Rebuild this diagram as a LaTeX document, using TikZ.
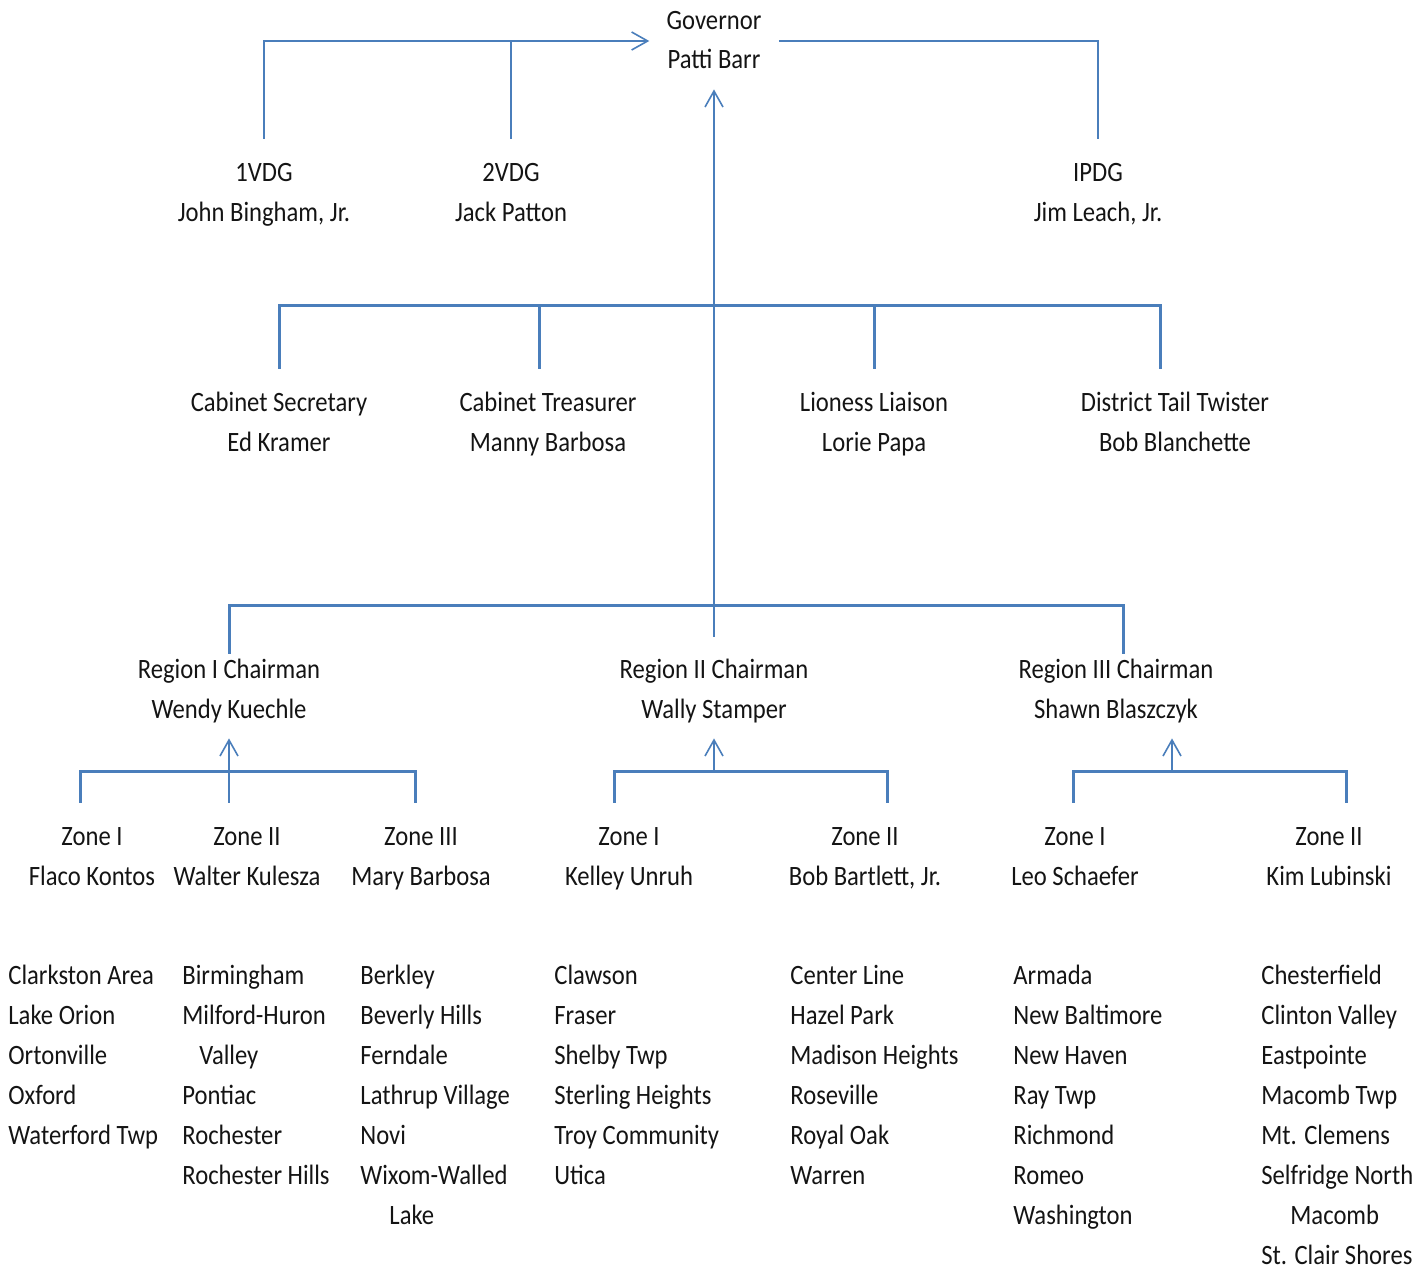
\documentclass[tikz,border=0pt]{standalone}
\usepackage{fontspec}
\setmainfont{Carlito}[FakeStretch=0.88]
\usetikzlibrary{arrows.meta}
\definecolor{linkblue}{RGB}{74,126,187}
\definecolor{inkgray}{RGB}{20,20,20}

\begin{document}
\begin{tikzpicture}[x=0.5pt, y=-0.5pt,
  font=\fontsize{14}{20}\selectfont, text=inkgray,
  person/.style={align=center, inner xsep=0pt, inner ysep=7pt},
  chair/.style={align=center, inner xsep=0pt, inner ysep=4pt},
  clubs/.style={align=left, anchor=north west, inner sep=0pt},
  bar/.style={draw=linkblue, line width=1.5pt},
  link/.style={draw=linkblue, line width=0.8pt},
  up/.style={-{Straight Barb[length=8pt, width=9pt]}}]
  \useasboundingbox (0,0) rectangle (1415,1269);

  \node[chair, inner xsep=8.5pt] (gov) at (714,41) {\strut Governor\\Patti Barr\strut};
  \node[person] (firstvdg) at (264,193) {\strut 1VDG\\John Bingham, Jr.\strut};
  \node[person] (secondvdg) at (511,193) {\strut 2VDG\\Jack Patton\strut};
  \node[person] (ipdg) at (1098,193) {\strut IPDG\\Jim Leach, Jr.\strut};

  \node[person] (secretary) at (279,423) {\strut Cabinet Secretary\\Ed Kramer\strut};
  \node[person] (treasurer) at (548,423) {\strut Cabinet Treasurer\\Manny Barbosa\strut};
  \node[person] (liaison) at (874,423) {\strut Lioness Liaison\\Lorie Papa\strut};
  \node[person] (tailtwister) at (1175,423) {\strut District Tail Twister\\Bob Blanchette\strut};

  \node[chair] (regionone) at (229,690) {\strut Region I Chairman\\Wendy Kuechle\strut};
  \node[chair] (regiontwo) at (714,690) {\strut Region II Chairman\\Wally Stamper\strut};
  \node[chair] (regionthree) at (1116,690) {\strut Region III Chairman\\Shawn Blaszczyk\strut};

  \node[person] (zoneoneA) at (92,857) {\strut Zone I\\Flaco Kontos\strut};
  \node[person] (zoneoneB) at (247,857) {\strut Zone II\\Walter Kulesza\strut};
  \node[person] (zoneoneC) at (421,857) {\strut Zone III\\Mary Barbosa\strut};
  \node[person] (zonetwoA) at (629,857) {\strut Zone I\\Kelley Unruh\strut};
  \node[person] (zonetwoB) at (865,857) {\strut Zone II\\Bob Bartlett, Jr.\strut};
  \node[person] (zonethreeA) at (1075,857) {\strut Zone I\\Leo Schaefer\strut};
  \node[person] (zonethreeB) at (1329,857) {\strut Zone II\\Kim Lubinski\strut};

  \node[clubs] (clubsoneA) at (8,956) {\strut Clarkston Area\\Lake Orion\\Ortonville\\Oxford\\Waterford Twp};
  \node[clubs] (clubsoneB) at (182,956) {\strut Birmingham\\Milford-Huron\\\hspace*{8.5pt}Valley\\Pontiac\\Rochester\\Rochester Hills};
  \node[clubs] (clubsoneC) at (360,956) {\strut Berkley\\Beverly Hills\\Ferndale\\Lathrup Village\\Novi\\Wixom-Walled\\\hspace*{14.5pt}Lake};
  \node[clubs] (clubstwoA) at (554,956) {\strut Clawson\\Fraser\\Shelby Twp\\Sterling Heights\\Troy Community\\Utica};
  \node[clubs] (clubstwoB) at (790,956) {\strut Center Line\\Hazel Park\\Madison Heights\\Roseville\\Royal Oak\\Warren};
  \node[clubs] (clubsthreeA) at (1013,956) {\strut Armada\\New Baltimore\\New Haven\\Ray Twp\\Richmond\\Romeo\\Washington};
  \node[clubs] (clubsthreeB) at (1261,956) {\strut Chesterfield\\Clinton Valley\\Eastpointe\\Macomb Twp\\Mt. Clemens\\Selfridge North\\\hspace*{14.5pt}Macomb\\St. Clair Shores};

  \coordinate (cabinet) at (714,305);
  \coordinate (regions) at (714,605);
  \coordinate (zonesone) at (229,771);
  \coordinate (zonestwo) at (714,771);
  \coordinate (zonesthree) at (1172,771);

  \draw[link, up] (firstvdg.north) |- (gov.west);
  \draw[link] (secondvdg.north) -- (secondvdg.north |- gov.west);
  \draw[link] (gov.east) -| (ipdg.north);

  \draw[bar] (secretary.north) |- (cabinet) -| ([xshift=-7.5pt]tailtwister.north);
  \draw[bar] ([xshift=-4.5pt]treasurer.north) |- (cabinet);
  \draw[bar] (liaison.north) |- (cabinet);

  \draw[bar] ([yshift=-6pt]regionone.north) |- (regions) -| ([xshift=3.5pt, yshift=-6pt]regionthree.north);
  \draw[link, up] ([yshift=2.5pt]regiontwo.north) -- (gov.south);

  \draw[bar] ([xshift=-6pt]zoneoneA.north) |- (zonesone) -| ([xshift=-3pt]zoneoneC.north);
  \draw[link, up] ([xshift=-9pt]zoneoneB.north) -- (regionone.south);
  \draw[bar] ([xshift=-7.5pt]zonetwoA.north) |- (zonestwo) -| ([xshift=11pt]zonetwoB.north);
  \draw[link, up] (zonestwo) -- (regiontwo.south);
  \draw[bar] ([xshift=-1pt]zonethreeA.north) |- (zonesthree) -| ([xshift=8.5pt]zonethreeB.north);
  \draw[link, up] (zonesthree) -- (zonesthree |- regionthree.south);
\end{tikzpicture}
\end{document}
